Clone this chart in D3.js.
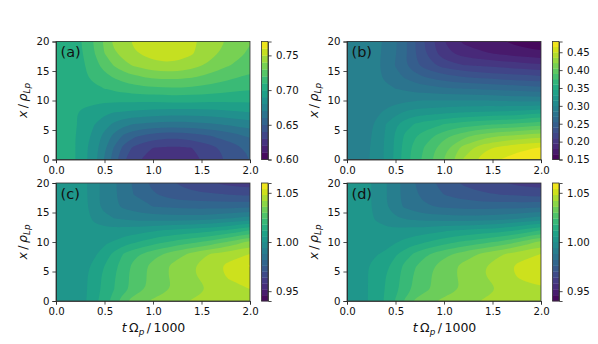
<!DOCTYPE html>
<html>
<head>
<meta charset="utf-8">
<script src="https://cdn.jsdelivr.net/npm/d3@7"></script>
<style>
    html, body { margin: 0; background: #fff; }
    text { font-family: "DejaVu Sans", sans-serif; fill: #111; }
    .tick text { font-size: 10.2px; }
    .tick line, .domain { stroke: #222; stroke-width: 0.8; }
</style>
</head>
<body>
<div id="chart"></div>
<script>
// Sample positions, the same for all four panels (closer together where the fields change fast)
const tValues = [0, 0.1, 0.2, 0.3, 0.4, 0.5, 0.6, 0.7, 0.8, 1.0, 1.2, 1.4, 1.6, 1.8, 2.0];
const xValues = [0, 2, 4, 6, 8, 10, 12, 14, 16, 18, 20];
const tTicks = [0, 0.5, 1, 1.5, 2];
const xTicks = [0, 5, 10, 15, 20];

// Rows run from x = 0 (bottom of the panel) to x = 20 (top)
const gridA = [
    [.705, .705, .700, .692, .683, .669, .654, .641, .632, .625, .623, .626, .634, .643, .650],
    [.705, .705, .700, .692, .684, .672, .659, .647, .638, .630, .628, .630, .637, .645, .653],
    [.705, .705, .700, .694, .686, .677, .667, .658, .652, .645, .643, .645, .650, .655, .662],
    [.705, .705, .701, .696, .690, .684, .678, .673, .670, .667, .666, .667, .669, .672, .676],
    [.705, .705, .7005, .697, .694, .692, .690, .689, .688, .686, .685, .685, .686, .688, .690],
    [.705, .705, .705, .704, .703, .702, .702, .702, .702, .702, .703, .703, .702, .702, .702],
    [.705, .705, .706, .707, .708, .710, .712, .714, .716, .718, .719, .718, .716, .713, .711],
    [.705, .705, .707, .709, .713, .717, .721, .725, .728, .732, .733, .731, .727, .722, .718],
    [.705, .705, .707, .710, .717, .724, .731, .737, .741, .748, .749, .745, .737, .730, .725],
    [.705, .705, .707, .711, .720, .730, .738, .744, .749, .753, .754, .751, .743, .735, .729],
    [.705, .705, .707, .712, .722, .732, .743, .747, .751, .756, .757, .752, .745, .738, .730]
];

const gridB = [
    [.291, .291, .298, .305, .318, .334, .353, .367, .380, .405, .436, .456, .466, .472, .476],
    [.291, .291, .297, .305, .318, .333, .352, .365, .376, .400, .425, .445, .455, .462, .466],
    [.292, .292, .296, .304, .317, .332, .348, .358, .367, .385, .400, .413, .420, .425, .430],
    [.292, .292, .295, .302, .315, .327, .338, .346, .352, .360, .367, .372, .375, .378, .385],
    [.292, .292, .293, .297, .303, .310, .317, .321, .323, .327, .330, .332, .333, .336, .342],
    [.292, .292, .292, .292, .293, .295, .297, .299, .300, .300, .300, .300, .298, .297, .296],
    [.292, .292, .292, .291, .288, .285, .282, .279, .277, .272, .270, .268, .266, .263, .260],
    [.292, .292, .292, .289, .282, .275, .268, .261, .255, .245, .240, .236, .233, .230, .227],
    [.292, .292, .292, .288, .280, .269, .256, .244, .233, .218, .210, .207, .204, .201, .197],
    [.292, .292, .292, .288, .282, .271, .258, .241, .226, .200, .188, .182, .177, .172, .168],
    [.292, .292, .292, .288, .283, .272, .258, .241, .225, .195, .177, .170, .165, .159, .155]
];

const gridC = [
    [1.003, 1.003, 1.003, 1.0055, 1.0105, 1.0155, 1.021, 1.0285, 1.033, 1.037, 1.040, 1.0425, 1.043, 1.043, 1.043],
    [1.003, 1.003, 1.003, 1.005, 1.0095, 1.0135, 1.018, 1.0215, 1.0265, 1.032, 1.036, 1.039, 1.0425, 1.045, 1.048],
    [1.003, 1.003, 1.003, 1.005, 1.0095, 1.0135, 1.0175, 1.022, 1.026, 1.032, 1.037, 1.041, 1.045, 1.049, 1.052],
    [1.003, 1.003, 1.003, 1.004, 1.008, 1.012, 1.0165, 1.021, 1.0255, 1.032, 1.037, 1.0415, 1.046, 1.050, 1.0545],
    [1.003, 1.003, 1.003, 1.0035, 1.005, 1.009, 1.0135, 1.0185, 1.022, 1.0275, 1.0325, 1.0375, 1.0425, 1.045, 1.048],
    [1.003, 1.003, 1.003, 1.003, 1.0035, 1.005, 1.0065, 1.009, 1.011, 1.0155, 1.019, 1.0225, 1.026, 1.031, 1.038],
    [1.003, 1.003, 1.003, 1.0025, 1.002, 1.002, 1.002, 1.0025, 1.003, 1.005, 1.007, 1.0085, 1.010, 1.013, 1.018],
    [1.003, 1.003, 1.003, 1.002, .9985, .996, .994, .993, .992, .991, .991, .991, .992, .994, .997],
    [1.003, 1.003, 1.003, 1.0015, .996, .992, .989, .987, .985, .982, .981, .980, .980, .980, .981],
    [1.003, 1.003, 1.003, 1.0012, .996, .992, .989, .985, .982, .977, .973, .972, .971, .970, .969],
    [1.003, 1.003, 1.003, 1.001, .996, .992, .989, .985, .981, .974, .970, .966, .964, .962, .961]
];

const gridD = [
    [1.003, 1.0035, 1.0055, 1.009, 1.013, 1.0185, 1.025, 1.031, 1.034, 1.0375, 1.0395, 1.0425, 1.043, 1.043, 1.043],
    [1.003, 1.0035, 1.0055, 1.0085, 1.0125, 1.0165, 1.021, 1.0255, 1.0285, 1.033, 1.0365, 1.0395, 1.0425, 1.0445, 1.047],
    [1.003, 1.0035, 1.0055, 1.0085, 1.012, 1.016, 1.0205, 1.025, 1.0285, 1.033, 1.0375, 1.0415, 1.0455, 1.049, 1.0515],
    [1.003, 1.0035, 1.0055, 1.008, 1.0105, 1.015, 1.0195, 1.0235, 1.027, 1.033, 1.0375, 1.0415, 1.046, 1.050, 1.053],
    [1.003, 1.003, 1.004, 1.0055, 1.007, 1.011, 1.015, 1.019, 1.0225, 1.028, 1.0325, 1.037, 1.0415, 1.045, 1.048],
    [1.003, 1.003, 1.003, 1.0035, 1.004, 1.0055, 1.0075, 1.0095, 1.0115, 1.0155, 1.019, 1.022, 1.0255, 1.031, 1.038],
    [1.003, 1.003, 1.002, 1.0015, 1.0015, 1.0015, 1.002, 1.0025, 1.003, 1.005, 1.0065, 1.008, 1.0095, 1.013, 1.018],
    [1.003, 1.003, 1.0015, .9995, .997, .995, .9935, .9925, .9915, .991, .9905, .991, .992, .994, .997],
    [1.003, 1.003, 1.0015, .9985, .9945, .990, .987, .985, .983, .981, .980, .9795, .980, .980, .981],
    [1.003, 1.003, 1.0015, .9985, .9945, .990, .986, .983, .980, .976, .973, .971, .970, .969, .968],
    [1.003, 1.003, 1.0015, .9985, .9945, .990, .986, .982, .979, .973, .969, .966, .964, .962, .961]
];

// Contour levels and colorbar ticks
const levelsA = d3.range(0, 18).map(i => 0.60 + i * 0.01);
const levelsB = d3.range(0, 23).map(i => 0.15 + i * 0.015);
const levelsCD = d3.range(0, 21).map(i => 0.94 + i * 0.006);
const barTicksA = [0.60, 0.65, 0.70, 0.75];
const barTicksB = [0.15, 0.20, 0.25, 0.30, 0.35, 0.40, 0.45];
const barTicksCD = [0.95, 1.00, 1.05];

const panels = [
    { name: "(a)", grid: gridA, levels: levelsA, barTicks: barTicksA, left: 56, top: 41.5, xLabel: false },
    { name: "(b)", grid: gridB, levels: levelsB, barTicks: barTicksB, left: 347, top: 41.5, xLabel: false },
    { name: "(c)", grid: gridC, levels: levelsCD, barTicks: barTicksCD, left: 56, top: 183, xLabel: true },
    { name: "(d)", grid: gridD, levels: levelsCD, barTicks: barTicksCD, left: 347, top: 183, xLabel: true }
];

const width = 598;
const height = 344;
const plotWidth = 194;
const plotHeight = 118;
const barGap = 11.5;
const barWidth = 6.5;

const svg = d3.select("#chart")
    .append("svg")
    .attr("width", width)
    .attr("height", height)
    .attr("viewBox", `0 0 ${width} ${height}`)
    .style("display", "block");

const defs = svg.append("defs");

const drawPanel = (panel, index) => {
    const g = svg.append("g")
        .attr("transform", `translate(${panel.left}, ${panel.top})`);

    const xScale = d3.scaleLinear().domain([0, 2]).range([0, plotWidth]);
    const yScale = d3.scaleLinear().domain([0, 20]).range([plotHeight, 0]);

    const levels = panel.levels;
    const colorOf = i => d3.interpolateViridis(
        ((levels[i] + levels[i + 1]) / 2 - levels[0]) / (levels[levels.length - 1] - levels[0])
    );

    // one repeated row/column round the grid so the smoothed rings close outside the clip
    const pad = 1;
    const nx = tValues.length;
    const ny = xValues.length;
    const flat = [];
    for (let j = -pad; j < ny + pad; j++) {
        for (let i = -pad; i < nx + pad; i++) {
            flat.push(panel.grid[Math.max(0, Math.min(ny - 1, j))][Math.max(0, Math.min(nx - 1, i))]);
        }
    }

    const contours = d3.contours()
        .size([nx + 2 * pad, ny + 2 * pad])
        .thresholds(levels.slice(0, -1))(flat);

    // contour coordinates come back in grid steps, t samples are not evenly spaced
    const tOfCol = d3.scaleLinear().domain(d3.range(nx)).range(tValues);
    const xOfRow = d3.scaleLinear().domain(d3.range(ny)).range(xValues);

    const ringLine = d3.line()
        .x(p => xScale(tOfCol(p[0] - 0.5 - pad)))
        .y(p => yScale(xOfRow(p[1] - 0.5 - pad)))
        .curve(d3.curveBasisClosed);

    const clipId = `clip-${index}`;
    defs.append("clipPath")
        .attr("id", clipId)
        .append("rect")
        .attr("width", plotWidth)
        .attr("height", plotHeight);

    const fills = g.append("g").attr("clip-path", `url(#${clipId})`);

    fills.append("rect")
        .attr("width", plotWidth)
        .attr("height", plotHeight)
        .attr("fill", colorOf(0));

    fills.selectAll("path")
        .data(contours)
        .join("path")
        .attr("d", c => c.coordinates
            .map(polygon => polygon.map(ring => ringLine(ring.slice(0, -1))).join(""))
            .join(""))
        .attr("fill-rule", "evenodd")
        .attr("fill", (c, i) => colorOf(i));

    g.append("g")
        .attr("transform", `translate(0, ${plotHeight})`)
        .call(d3.axisBottom(xScale).tickValues(tTicks).tickFormat(d3.format(".1f")).tickSize(3.6).tickPadding(3.2));

    g.append("g")
        .call(d3.axisLeft(yScale).tickValues(xTicks).tickFormat(d3.format("d")).tickSize(3.6).tickPadding(3));

    g.append("rect")
        .attr("width", plotWidth)
        .attr("height", plotHeight)
        .attr("fill", "none")
        .attr("stroke", "#333")
        .attr("stroke-width", 0.8);

    g.append("text")
        .attr("x", 4.5)
        .attr("y", 15.5)
        .style("font-size", "14.5px")
        .text(panel.name);

    // y label, mathtext style
    const yLabel = g.append("text")
        .attr("transform", `translate(-28.7, ${plotHeight / 2}) rotate(-90)`)
        .attr("text-anchor", "middle")
        .style("font-size", "12.5px");
    yLabel.append("tspan").style("font-style", "italic").text("x");
    yLabel.append("tspan").text("\u2009/\u2009");
    yLabel.append("tspan").style("font-style", "italic").text("ρ");
    yLabel.append("tspan").style("font-style", "italic").style("font-size", "8.8px").attr("dy", 2.5).text("Lp");

    if (panel.xLabel) {
        const xLabel = g.append("text")
            .attr("x", plotWidth / 2 + 0.5)
            .attr("y", plotHeight + 31)
            .attr("text-anchor", "middle")
            .style("font-size", "12.5px");
        xLabel.append("tspan").style("font-style", "italic").text("t");
        xLabel.append("tspan").text("\u2009Ω");
        xLabel.append("tspan").style("font-style", "italic").style("font-size", "8.8px").attr("dy", 2.5).text("p");
        xLabel.append("tspan").attr("dy", -2.5).text("\u2009/\u20091000");
    }

    // colorbar
    const barScale = d3.scaleLinear()
        .domain([levels[0], levels[levels.length - 1]])
        .range([plotHeight, 0]);

    const bar = g.append("g")
        .attr("transform", `translate(${plotWidth + barGap}, 0)`);

    bar.selectAll("rect")
        .data(levels.slice(0, -1))
        .join("rect")
        .attr("y", (d, i) => barScale(levels[i + 1]))
        .attr("width", barWidth)
        .attr("height", (d, i) => barScale(levels[i]) - barScale(levels[i + 1]) + 0.3)
        .attr("fill", (d, i) => colorOf(i));

    bar.append("g")
        .attr("transform", `translate(${barWidth}, 0)`)
        .call(d3.axisRight(barScale).tickValues(panel.barTicks).tickFormat(d3.format(".2f")).tickSize(3.6).tickPadding(4.5));

    bar.append("rect")
        .attr("width", barWidth)
        .attr("height", plotHeight)
        .attr("fill", "none")
        .attr("stroke", "#333")
        .attr("stroke-width", 0.8);
};

panels.forEach(drawPanel);
</script>
</body>
</html>
